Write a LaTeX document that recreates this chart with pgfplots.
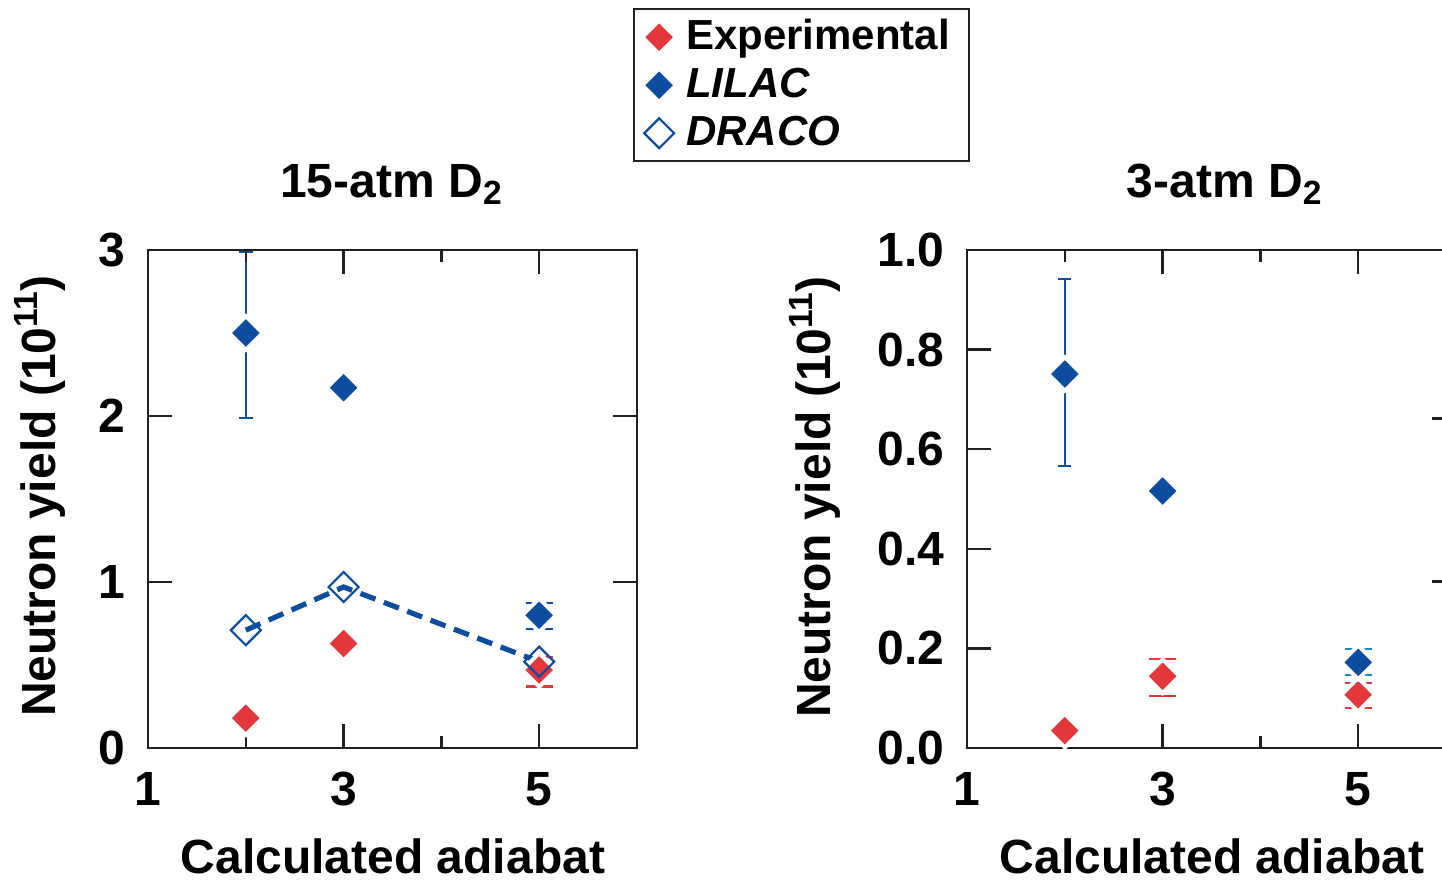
\documentclass[border=0pt]{standalone}
\usepackage{fontspec}
\setmainfont{Liberation Sans}
\usepackage{pgfplots}
\pgfplotsset{compat=1.18}
\definecolor{expred}{RGB}{227,55,60}
\definecolor{lilac}{RGB}{13,77,160}
\definecolor{ltblue}{RGB}{30,136,200}
\definecolor{axisgray}{RGB}{35,31,32}
\newcommand{\bigf}{\fontsize{24}{28}\selectfont\bfseries}
\pgfplotsset{
  panel/.style={
    scale only axis, width=244.5pt, height=249pt,
    xmin=1, xmax=6, xtick={1,3,5}, minor xtick={2,4},
    major tick length=12pt, minor tick length=6pt,
    tick style={line width=1.2pt, color=axisgray},
    axis line style={line width=1.2pt, draw=axisgray},
    tick label style={font=\bigf},
    label style={font=\bigf},
    title style={font=\bigf},
    /pgf/number format/assume math mode=true,
    xticklabel style={anchor=base, yshift=-28.5pt},
    yticklabel style={anchor=east, inner sep=0pt, xshift=-11pt},
    xlabel={Calculated adiabat},
    ylabel={Neutron yield (10\textsuperscript{11})},
    xlabel style={at={(axis description cs:0.501,-0.251)}, anchor=base, inner sep=0pt},
    clip=false, axis on top,
    legend image code/.code={%
      \path[draw=none, fill=none] (-12.5pt,-9pt) rectangle (9pt,9pt);
      \draw[##1] plot[only marks] coordinates {(0pt,0pt)};},
  },
  expmark/.style={only marks, mark=square*, mark size=5.95pt,
    mark options={rotate=45, draw=white, line width=2pt, fill=expred}},
  lilmark/.style={only marks, mark=square*, mark size=5.95pt,
    mark options={rotate=45, draw=white, line width=2pt, fill=lilac}},
  dracomark/.style={color=lilac, line width=2.6pt, dash pattern=on 8pt off 4.5pt,
    mark=square, mark size=5.3pt,
    mark options={rotate=45, solid, line width=1.1pt, draw=lilac, fill=none}},
  errs/.style 2 args={error bars/.cd, y dir=both, y explicit,
    error bar style={line width=1.1pt, color=#1},
    error mark options={rotate=90, mark size=#2, line width=1.1pt, color=#1}},
}
\begin{document}
\begin{tikzpicture}
\useasboundingbox (0,0) rectangle (721pt,-440pt);
% ---------- left panel ----------
\begin{axis}[panel, at={(74pt,-374pt)}, anchor=south west,
  ymin=0, ymax=3, ytick={0,1,2,3},
  title={15-atm D\textsubscript{2}},
  title style={at={(axis description cs:0.498,1.106)}, anchor=base, yshift=-6pt},
  ylabel style={at={(axis description cs:-0.190,0.506)}, anchor=base},
  legend style={at={(axis description cs:0.9918,1.4859)}, anchor=north west,
    draw=axisgray, line width=1.2pt, inner xsep=0pt, inner ysep=3.5pt,
    row sep=3pt, column sep=4.5pt,
    font=\fontsize{21}{25}\selectfont\bfseries,
    nodes={inner sep=0pt, text height=16.5pt, text depth=4.5pt},
    cells={anchor=west}},
]
\addlegendimage{expmark}\addlegendentry{Experimental\rule{9.5pt}{0pt}}
\addlegendimage{lilmark}\addlegendentry{\textit{LILAC}}
\addlegendimage{dracomark}\addlegendentry{\textit{DRACO}}
% Experimental
\addplot[expmark, forget plot] coordinates {(2,0.18) (3,0.63)};
\addplot[expmark, forget plot, errs={expred}{6.75pt}] coordinates {(5,0.47) += (0,0.08) -= (0,0.10)};
% LILAC
\addplot[lilmark, forget plot, errs={lilac}{3.5pt}] coordinates {(2,2.50) += (0,0.49) -= (0,0.51)};
\addplot[lilmark, forget plot] coordinates {(3,2.17)};
\addplot[lilmark, forget plot, errs={lilac}{6.75pt}] coordinates {(5,0.80) += (0,0.075) -= (0,0.085)};
% DRACO
\addplot[dracomark, forget plot] coordinates {(2,0.71) (3,0.97) (5,0.52)};
\end{axis}
% ---------- right panel ----------
\begin{axis}[panel, at={(483.5pt,-374pt)}, anchor=south west,
  ymin=0, ymax=1, ytick={0,0.2,0.4,0.6,0.8,1}, ytick pos=left,
  yticklabel style={/pgf/number format/.cd, fixed, fixed zerofill, precision=1},
  title={3-atm D\textsubscript{2}},
  title style={at={(axis description cs:0.527,1.106)}, anchor=base, yshift=-6pt},
  ylabel style={at={(axis description cs:-0.280,0.504)}, anchor=base},
]
% Experimental
\addplot[expmark] coordinates {(2,0.035)};
\addplot[expmark, errs={expred}{6.75pt}] coordinates {(3,0.144) += (0,0.034) -= (0,0.039)};
\addplot[expmark, errs={expred}{6.75pt}] coordinates {(5,0.107) += (0,0.024) -= (0,0.026)};
% LILAC
\addplot[lilmark, errs={lilac}{3.3pt}] coordinates {(2,0.751) += (0,0.19) -= (0,0.185)};
\addplot[lilmark] coordinates {(3,0.516)};
\addplot[lilmark, errs={ltblue}{6.75pt}] coordinates {(5,0.172) += (0,0.027) -= (0,0.025)};
\draw[line width=1.2pt, axisgray] (rel axis cs:1,0.334) -- ++(-12pt,0pt);
\draw[line width=1.2pt, axisgray] (rel axis cs:1,0.662) -- ++(-12pt,0pt);
\end{axis}
\end{tikzpicture}
\end{document}
